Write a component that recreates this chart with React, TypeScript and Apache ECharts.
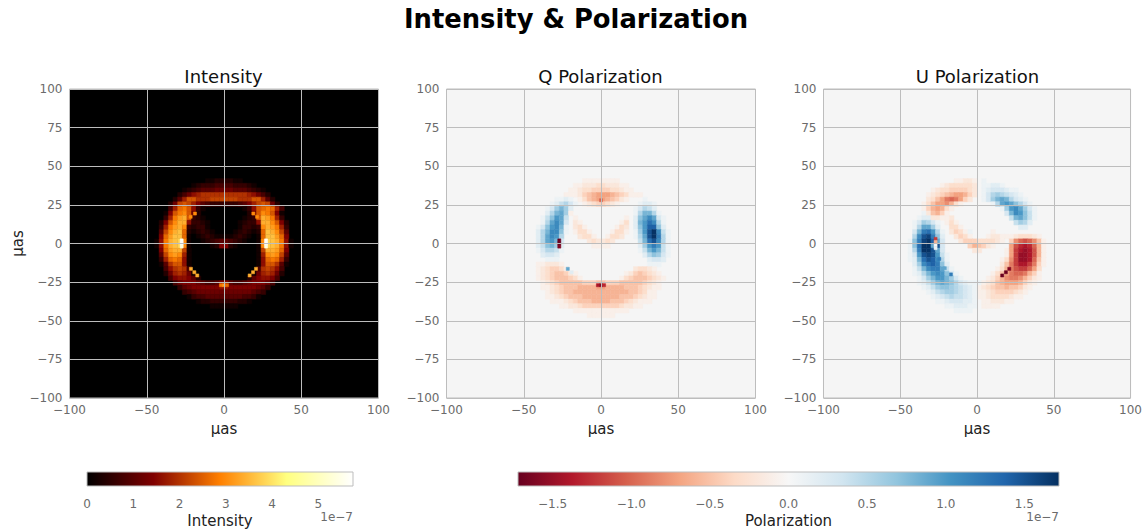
import React, { useEffect, useRef } from "react";
import * as echarts from "echarts";

// Image cells, top row first. Each segment is "firstColumn:levels".
const intensityRows = [
  "", "", "",
  "13:11222211",
  "10:12333444433321",
  "8:123455566665554321",
  "7:24689aaaaaaaaaa98642",
  "6:259ccaaabbbbbbaaacc952",
  "5:26bcb97543333334579bcb62",
  "5:49dec831 21:138cded94",
  "4:17cefc62 22:26cfec71",
  "4:39eghc321 21:123chge93",
  "3:27cfhh83321 20:12338hhfc72",
  "3:39eghf32331 20:13323fhge93",
  "3:5bfhid212321 19:123212dihfb5",
  "3:7dgiid1012321111232101diigd7",
  "2:18ehijf1001234554321001fjihe81",
  "2:18ehijf1000012772100001fjihe81",
  "3:7dghhb1 24:1bhhgd7",
  "3:5bfgf91 24:19fgfb5",
  "3:39ded81 24:18ded93",
  "3:15acc81 24:18cca51",
  "4:48aba4 24:4aba84",
  "4:269a961 23:169a962",
  "5:4788752 22:2578874",
  "6:4677765445775445677764",
  "7:35677777788777777653",
  "8:345666666666666543",
  "9:1344555555554431",
  "11:122333333221",
  "14:111111",
  "", "", "",
];

const qRows = [
  "", "", "",
  "13:aaaaaaaa",
  "11:aabbbccbbbaa",
  "10:aabccddddccbaa",
  "9:aaabdefgggfedcaaa",
  "7:AABA 12:acefggfedba 26:A",
  "6:ABDECA 13:abcddcba 25:ABBA",
  "5:ACFHFB 24:ACEDB",
  "5:BEHIFa 24:AEHHEA",
  "4:ADGJID 11:a 22:a 24:BGIKICA",
  "4:AEIKIC 11:ba 21:ac 24:BHJMKEA",
  "3:ACGJKHA 11:bca 20:acb 24:BGJNNGB",
  "3:BEHKKGA 11:acca 19:acca 24:AFJOQKDA",
  "3:BEIKJE 12:bcca 18:accb 24:AEIOQLEA",
  "3:BEIJHC 14:bcbbcb 25:DHMOKEA",
  "3:BDGHFB 15:aaaa 25:BFJLJDA",
  "3:ACEEDA 25:ADHJHDA",
  "4:BCCB 26:BEGFCA",
  "5:AAA 27:BCCB",
  "3:aabbba 27:AAA",
  "3:abcddca 24:bccba",
  "3:abcdeedba 22:abdedcba",
  "3:abcdeeedca 21:acdeeedcba",
  "4:abcdeeeeedddeedddeeeeedcba",
  "4:aabcdeeeffffggffffeeedcbaa",
  "5:abcdeeffffffffffffeedcaa",
  "5:aabcdeeeffffffffeeedcbaa",
  "6:aaabcdeeeffffeeedcbaaa",
  "8:aabbcddddddddcbbaa",
  "11:aaaaaaaaaaaa",
  "14:aaaaaa",
  "", "",
];

const uRows = [
  "", "", "",
  "12:aabba 18:A",
  "9:abcccccb 18:AABBA",
  "7:abccddddcb 18:ABCCCBAA",
  "6:abcdefggfdb 18:ACEFEDCBA",
  "6:bcegijigdb 18:ACFHIHECBA",
  "5:acegghfca 20:AEIJIGECA",
  "5:adfgfca 22:AFJKIFCA",
  "5:Abefda 23:CHKJGDA",
  "4:ABBbbaab 24:DHIGDA",
  "3:ACFECA 10:aca 25:DFEB",
  "3:AEIIFB 11:cca 26:BB",
  "3:CHLMJEA 11:bdcaA 20:a",
  "3:EKOPLGB 12:bdca 19:abbaaabcccba",
  "2:AGLPQNIC 13:bdddccccba 24:dhjkjhea",
  "2:AGMQRIOC 15:dfedba 24:gkmnmjfa",
  "2:AELQQOIC 16:bb 23:aglnonkfa",
  "2:ACJOPOJDA 23:agloonkfa",
  "2:ABHMONKEA 22:achloonjea",
  "3:BFKMNLGB 22:beilnnlida",
  "3:ADHKLLIDA 21:acfiklljgc",
  "3:ABEHJKJGCA 20:acegijjifda",
  "4:ACFHJJHFCA 19:abdfhiihfdba",
  "4:ABDFHIHGECBAAA 18:abcefgggfdba",
  "5:ABDFGGFEDCBA 17:abcdeefeedba",
  "6:ABDEFFEDCBA 17:aabcddddcba",
  "7:ABCDEDDCBA 17:aabccccbaa",
  "8:AABCCCBBA 18:aabbbaa",
  "10:AABBBAA 18:aaaa",
  "12:AAAA",
  "", "",
];

// Small bright pixels: [x, y, value in 1e-7]
const intensitySpots = [
  [-27.4, 2, 5.7], [-27.4, 0, 5.7], [-27.4, -2, 5.4], [27.2, 2, 5.7], [27.2, 0, 5.7], [27.2, -2, 5.4],
  [-21.4, -16.4, 3.4], [-19.2, -18.6, 3.4], [-17.3, -20.7, 3.4], [20.7, -16.4, 3.4], [18.8, -18.6, 3.4], [16.6, -20.7, 3.4],
  [-21.6, 17.3, 3], [-18.8, 19.4, 3], [19, 19.4, 3], [21.4, 17.3, 3],
  [-2, -27, 2.8], [0, -27, 3.2], [2, -27, 2.6],
];
const qSpots = [
  [-27, 2, -1.7], [-27, 0, -1.7], [-27, -2, -1.6], [-2, -27, -1.4], [0, -27, -1.6], [2, -27, -1.3],
  [-21.5, -16.4, 0.9], [-19, -18.6, 0.2], [0, 28, -1.0],
];
const uSpots = [
  [-27, 3, -1.2], [-27, 1, -0.6], [-27, -1, 0], [-27, -3, 0.1],
  [16.4, -20.7, -1.7], [18.8, -18.6, -1.7], [21, -16.4, -1.6],
  [-24.6, -10, 1.2], [-17, -20, 1.2], [-21, -16, 0.9],
];

const hotStops = ["#000000", "#800000", "#ff8000", "#ffff80", "#ffffff"];
const rdbuStops = ["#67001f", "#b2182b", "#d6604d", "#f4a582", "#fddbc7", "#f7f7f7", "#d1e5f0", "#92c5de", "#4393c3", "#2166ac", "#053061"];
const intensityMax = 5.75;
const polarMax = 1.72;
const intensityTicks = [0, 1, 2, 3, 4, 5];
const polarTicks = [-1.5, -1, -0.5, 0, 0.5, 1, 1.5];
const panelTitles = ["Intensity", "Q Polarization", "U Polarization"];

const FONT = "DejaVu Sans";
const hex = (s: string) => [1, 3, 5].map((i) => parseInt(s.slice(i, i + 2), 16));
function ramp(stops: string[], t: number) {
  const p = Math.max(0, Math.min(1, t)) * (stops.length - 1);
  const i = Math.min(stops.length - 2, Math.floor(p));
  const a = hex(stops[i]);
  const b = hex(stops[i + 1]);
  const f = p - i;
  return `rgb(${a.map((v, k) => Math.round(v + (b[k] - v) * f)).join(",")})`;
}
const hotColor = (v: number) => ramp(hotStops, v / intensityMax);
const rdbuColor = (v: number) => ramp(rdbuStops, (v + polarMax) / (2 * polarMax));

const decodeI = (c: string) => parseInt(c, 36) * 0.2;
const decodeP = (c: string) =>
  c >= "a" ? -(c.charCodeAt(0) - 96) * 0.1 : (c.charCodeAt(0) - 64) * 0.1;

function cells(rows: string[], spots: number[][], decode: (c: string) => number) {
  const out: number[][] = [];
  rows.forEach((row, j) => {
    const y = 49.5 - j * 3;
    row.split(" ").filter(Boolean).forEach((seg) => {
      const [s, chars] = seg.split(":");
      [...chars].forEach((c, k) => out.push([-49.5 + (Number(s) + k) * 3, y, decode(c), 3]));
    });
  });
  spots.forEach((p) => out.push([p[0], p[1], p[2], 2]));
  return out;
}

const minus = (v: number | string) => String(v).replace("-", "\u2212");
const LEFTS = [69.5, 446.5, 823.5];

function buildOption() {
  const grids: any[] = [];
  const xAxes: any[] = [];
  const yAxes: any[] = [];
  const series: any[] = [];
  const titles: any[] = [
    {
      text: "Intensity & Polarization",
      left: 576,
      top: 6,
      padding: 0,
      textAlign: "center",
      textStyle: { fontFamily: FONT, fontSize: 25.8, fontWeight: "bold", color: "#000" },
    },
  ];
  const sets = [
    { data: cells(intensityRows, intensitySpots, decodeI), color: hotColor, bg: "#000000" },
    { data: cells(qRows, qSpots, decodeP), color: rdbuColor, bg: "#f5f5f5" },
    { data: cells(uRows, uSpots, decodeP), color: rdbuColor, bg: "#f5f5f5" },
  ];
  sets.forEach((set, i) => {
    grids.push({
      left: LEFTS[i], top: 89, width: 309, height: 309, show: true,
      backgroundColor: set.bg, borderColor: "#bdbdbd", borderWidth: 1, z: 0,
    });
    titles.push({
      text: panelTitles[i],
      left: LEFTS[i] + 154,
      top: 67,
      padding: 0,
      textAlign: "center",
      textStyle: { fontFamily: FONT, fontSize: 18, fontWeight: "normal", color: "#111" },
    });
    const label = { color: "#6b6b6b", fontFamily: FONT, fontSize: 12, formatter: minus };
    const line = { show: true, lineStyle: { color: "#bdbdbd", width: 1 } };
    xAxes.push({
      gridIndex: i, type: "value", min: -100, max: 100, interval: 50, z: 5,
      axisLine: { show: false }, axisTick: { show: false }, splitLine: line,
      axisLabel: { ...label, margin: 6 },
      name: "\u03bcas", nameLocation: "middle", nameGap: 23,
      nameTextStyle: { fontFamily: FONT, fontSize: 15, color: "#222" },
    });
    yAxes.push({
      gridIndex: i, type: "value", min: -100, max: 100, interval: 25, z: 5,
      axisLine: { show: false }, axisTick: { show: false }, splitLine: line,
      axisLabel: { ...label, margin: 7 },
      ...(i === 0
        ? {
            name: "\u03bcas", nameLocation: "middle", nameGap: 44,
            nameTextStyle: { fontFamily: FONT, fontSize: 15, color: "#222" },
          }
        : {}),
    });
    series.push({
      type: "custom",
      coordinateSystem: "cartesian2d",
      xAxisIndex: i,
      yAxisIndex: i,
      data: set.data,
      encode: { x: 0, y: 1 },
      silent: true,
      z: 2,
      renderItem: (_: any, api: any) => {
        const x = api.value(0);
        const y = api.value(1);
        const s = api.value(3) / 2;
        const a = api.coord([x - s, y + s]);
        const b = api.coord([x + s, y - s]);
        const fill = set.color(api.value(2));
        return {
          type: "rect",
          shape: { x: a[0], y: a[1], width: b[0] - a[0], height: b[1] - a[1] },
          style: { fill, stroke: fill, lineWidth: 0.5 },
        };
      },
    });
  });

  const bars = [
    {
      left: 87, width: 266, min: 0, max: intensityMax, ticks: intensityTicks, stops: hotStops,
      name: "Intensity", fmt: (v: number) => String(v),
    },
    {
      left: 518, width: 541, min: -polarMax, max: polarMax, ticks: polarTicks, stops: rdbuStops,
      name: "Polarization", fmt: (v: number) => minus(v.toFixed(1)),
    },
  ];
  bars.forEach((b, k) => {
    const idx = 3 + k;
    grids.push({
      left: b.left, top: 472, width: b.width, height: 17, show: true,
      borderColor: "#bdbdbd", borderWidth: 1,
      backgroundColor: new echarts.graphic.LinearGradient(
        0, 0, 1, 0,
        b.stops.map((color, n) => ({ offset: n / (b.stops.length - 1), color })),
      ),
    });
    xAxes.push({
      gridIndex: idx, type: "value", min: b.min, max: b.max,
      axisLine: { show: false }, splitLine: { show: false },
      axisTick: { show: false, customValues: b.ticks },
      axisLabel: {
        customValues: b.ticks, formatter: b.fmt, color: "#6b6b6b",
        fontFamily: FONT, fontSize: 12, margin: 12,
      },
      name: b.name, nameLocation: "middle", nameGap: 27,
      nameTextStyle: { fontFamily: FONT, fontSize: 15, color: "#222" },
    });
    yAxes.push({ gridIndex: idx, type: "value", min: 0, max: 1, show: false });
    titles.push({
      text: "1e\u22127",
      left: b.left + b.width,
      top: 511,
      padding: 0,
      textAlign: "right",
      textStyle: { fontFamily: FONT, fontSize: 12, fontWeight: "normal", color: "#6b6b6b" },
    });
  });

  return {
    animation: false,
    backgroundColor: "#ffffff",
    textStyle: { fontFamily: FONT },
    title: titles,
    grid: grids,
    xAxis: xAxes,
    yAxis: yAxes,
    series,
  };
}

export default function App() {
  const ref = useRef<HTMLDivElement>(null);
  useEffect(() => {
    const chart = echarts.init(ref.current!, undefined, { renderer: "svg" });
    chart.setOption(buildOption() as any);
    return () => chart.dispose();
  }, []);
  return <div ref={ref} style={{ position: "absolute", left: 0, top: 0, width: 1145, height: 529 }} />;
}
